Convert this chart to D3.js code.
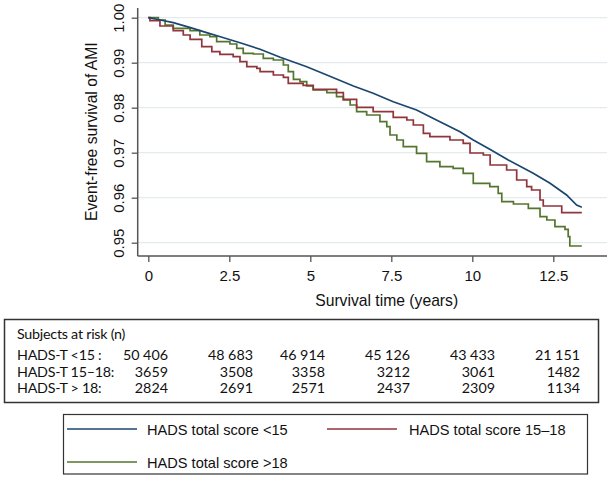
<!DOCTYPE html>
<html>
<head>
<meta charset="utf-8">
<script src="https://cdn.jsdelivr.net/npm/d3@7"></script>
<style>
  html, body { margin: 0; padding: 0; background: #fff; }
  svg { display: block; }
</style>
</head>
<body>
<div id="chart"></div>
<script>
// ---------- DATA ----------
const seriesNames = ["HADS total score <15", "HADS total score 15\u201318", "HADS total score >18"];
const seriesColors = ["#1a476f", "#90353b", "#55752f"];

// [time (years), survival]
const curveLow = [
  [0, 1.0], [0.3, 0.9996], [0.77, 0.99889], [1.3, 0.9978], [1.80, 0.99667], [2.3, 0.9956], [2.83, 0.99444],
  [3.45, 0.99298], [4.07, 0.99120], [4.89, 0.98911], [5.51, 0.98727], [6.33, 0.98482],
  [6.94, 0.98320], [7.56, 0.98133], [8.28, 0.97949], [9.00, 0.97689], [9.62, 0.97467],
  [10.03, 0.97282], [10.54, 0.97076], [11.11, 0.96838], [11.88, 0.96542], [12.40, 0.96320],
  [12.91, 0.96060], [13.22, 0.95838], [13.38, 0.95787]
];
const curveMid = [
  [0, 1.0], [0.05, 0.99933], [0.36, 0.99816], [0.77, 0.99711], [1.08, 0.99616], [1.29, 0.99520],
  [1.65, 0.99356], [1.96, 0.99244], [2.21, 0.99187], [2.62, 0.99133], [2.83, 0.99022],
  [3.04, 0.98911], [3.35, 0.98876], [3.45, 0.98800], [3.86, 0.98727], [4.17, 0.98676],
  [4.32, 0.98542], [4.78, 0.98498], [5.09, 0.98409], [5.81, 0.98333], [6.02, 0.98187],
  [6.43, 0.98009], [6.94, 0.97911], [7.56, 0.97787], [7.98, 0.97727], [8.18, 0.97616],
  [8.49, 0.97431], [8.69, 0.97356], [9.31, 0.97282], [9.72, 0.97209], [9.93, 0.96993],
  [10.34, 0.96949], [10.55, 0.96727], [11.06, 0.96616], [11.37, 0.96393], [11.68, 0.96244],
  [11.83, 0.96171], [12.09, 0.95949], [12.19, 0.95816], [12.76, 0.95667], [13.38, 0.95667]
];
const curveHigh = [
  [0, 1.0], [0.31, 0.99949], [0.52, 0.99838], [0.77, 0.99764], [1.29, 0.99711], [1.59, 0.99616],
  [1.90, 0.99578], [2.11, 0.99467], [2.52, 0.99416], [2.73, 0.99320], [2.93, 0.99209],
  [3.24, 0.99193], [3.55, 0.99098], [3.86, 0.99060], [4.17, 0.98949], [4.32, 0.98800],
  [4.48, 0.98631], [4.68, 0.98578], [4.89, 0.98482], [5.09, 0.98393], [5.51, 0.98333],
  [5.81, 0.98244], [6.02, 0.98171], [6.23, 0.98060], [6.43, 0.97911], [6.74, 0.97838],
  [7.15, 0.97689], [7.36, 0.97578], [7.46, 0.97393], [7.67, 0.97282], [7.87, 0.97133],
  [8.28, 0.96987], [8.59, 0.96800], [9.00, 0.96689], [9.41, 0.96653], [9.72, 0.96542],
  [10.03, 0.96320], [10.54, 0.96244], [10.80, 0.96098], [10.91, 0.95911], [11.27, 0.95860],
  [11.73, 0.95764], [12.09, 0.95578], [12.30, 0.95504], [12.55, 0.95356], [12.86, 0.95298],
  [12.96, 0.95133], [13.01, 0.94927], [13.38, 0.94927]
];

const xTicks = [0, 2.5, 5, 7.5, 10, 12.5];
const xTickLabels = ["0", "2.5", "5", "7.5", "10", "12.5"];
const yTicks = [0.95, 0.96, 0.97, 0.98, 0.99, 1.00];

const riskTitle = "Subjects at risk (n)";
const riskRowLabels = ["HADS-T <15 :", "HADS-T 15\u201318:", "HADS-T > 18:"];
const riskLow = ["50 406", "48 683", "46 914", "45 126", "43 433", "21 151"];
const riskMid = ["3659", "3508", "3358", "3212", "3061", "1482"];
const riskHigh = ["2824", "2691", "2571", "2437", "2309", "1134"];

const xTitle = "Survival time (years)";
const yTitle = "Event-free survival of AMI";

// ---------- LAYOUT ----------
const W = 610, H = 478;
const svg = d3.select("#chart").append("svg").attr("width", W).attr("height", H);

const axisLeftX = 137.7, axisBottomY = 256, plotRight = 607, plotTop = 8;
const x = d3.scaleLinear().domain([0, 12.5]).range([148.3, 553.3]);
const y = d3.scaleLinear().domain([0.95, 1.00]).range([242.7, 17.7]);

const axisColor = "#555";
const axisFont = "'Liberation Sans', Arial, sans-serif";

// gridlines
svg.append("g").selectAll("line").data(yTicks).join("line")
  .attr("x1", axisLeftX).attr("x2", plotRight)
  .attr("y1", d => y(d)).attr("y2", d => y(d))
  .attr("stroke", "#e3ebef").attr("stroke-width", 1.3);

// curves
const lineLinear = d3.line().x(d => x(d[0])).y(d => y(d[1]));
const lineStep = d3.line().x(d => x(d[0])).y(d => y(d[1])).curve(d3.curveStepAfter);
const curves = [
  {data: curveLow, gen: lineLinear, color: seriesColors[0]},
  {data: curveMid, gen: lineStep, color: seriesColors[1]},
  {data: curveHigh, gen: lineStep, color: seriesColors[2]}
];
[curves[2], curves[1], curves[0]].forEach(c => {
  svg.append("path").attr("d", c.gen(c.data))
    .attr("fill", "none").attr("stroke", c.color).attr("stroke-width", 1.7)
    .attr("stroke-linejoin", "miter");
});

// x axis
const gx = svg.append("g").attr("transform", `translate(0,${axisBottomY})`)
  .call(d3.axisBottom(x).tickValues(xTicks).tickFormat((d, i) => xTickLabels[i]).tickSize(6).tickPadding(5).tickSizeOuter(0));
gx.select(".domain").remove();
gx.selectAll(".tick line").attr("stroke", axisColor).attr("stroke-width", 1.3);
gx.selectAll(".tick text").attr("font-family", axisFont).attr("font-size", "15px").attr("fill", "#111")
  .attr("dy", null).attr("y", 24.5);
svg.append("line").attr("x1", axisLeftX).attr("x2", plotRight).attr("y1", axisBottomY).attr("y2", axisBottomY)
  .attr("stroke", axisColor).attr("stroke-width", 1.5);

// y axis
const gy = svg.append("g").attr("transform", `translate(${axisLeftX},0)`)
  .call(d3.axisLeft(y).tickValues(yTicks).tickFormat(d3.format(".2f")).tickSize(6).tickSizeOuter(0));
gy.select(".domain").remove();
gy.selectAll(".tick line").attr("stroke", axisColor).attr("stroke-width", 1.3);
gy.selectAll(".tick text")
  .attr("font-family", axisFont).attr("font-size", "15px").attr("fill", "#111")
  .attr("x", null).attr("dy", null)
  .attr("text-anchor", "middle")
  .attr("transform", "translate(-13.7,0) rotate(-90)");
svg.append("line").attr("x1", axisLeftX).attr("x2", axisLeftX).attr("y1", plotTop).attr("y2", axisBottomY)
  .attr("stroke", axisColor).attr("stroke-width", 1.5);

// axis titles
svg.append("text").attr("x", 386.7).attr("y", 305.5).attr("text-anchor", "middle")
  .attr("font-family", axisFont).attr("font-size", "15.7px").attr("fill", "#111").text(xTitle);
svg.append("text").attr("transform", "translate(96.5,131.7) rotate(-90)").attr("text-anchor", "middle")
  .attr("font-family", axisFont).attr("font-size", "15.7px").attr("fill", "#111").text(yTitle);

// ---------- RISK TABLE ----------
const tableFont = "Lato, 'Open Sans', sans-serif";
const tableSize = "14.3px";
const tableSpacing = "-0.25px";
svg.append("rect").attr("x", 4.5).attr("y", 319.5).attr("width", 594).attr("height", 83)
  .attr("fill", "none").attr("stroke", "#333").attr("stroke-width", 1.5);
svg.append("text").attr("x", 17).attr("y", 339.3).attr("font-family", tableFont).attr("font-size", tableSize)
  .attr("letter-spacing", tableSpacing).attr("fill", "#111").text(riskTitle);
const colRight = [168, 253, 325, 410, 495, 580];
const rowBase = [360, 376.7, 393.3];
[riskLow, riskMid, riskHigh].forEach((row, ri) => {
  svg.append("text").attr("x", 17).attr("y", rowBase[ri]).attr("font-family", tableFont).attr("font-size", tableSize)
    .attr("letter-spacing", tableSpacing).attr("fill", "#111").text(riskRowLabels[ri]);
  svg.append("g").selectAll("text").data(row).join("text")
    .attr("x", (d, i) => colRight[i]).attr("y", rowBase[ri]).attr("text-anchor", "end")
    .attr("font-family", tableFont).attr("font-size", tableSize).attr("fill", "#111").text(d => d);
});

// ---------- LEGEND ----------
svg.append("rect").attr("x", 63.5).attr("y", 414.5).attr("width", 524).attr("height", 59.5)
  .attr("fill", "none").attr("stroke", "#333").attr("stroke-width", 1.2);
const legendPos = [
  {lx: 67, ly: 429, tx: 147},
  {lx: 327, ly: 429, tx: 409},
  {lx: 67, ly: 462, tx: 147}
];
seriesNames.forEach((name, i) => {
  const p = legendPos[i];
  svg.append("line").attr("x1", p.lx).attr("x2", p.lx + 70).attr("y1", p.ly).attr("y2", p.ly)
    .attr("stroke", seriesColors[i]).attr("stroke-width", 1.6);
  svg.append("text").attr("x", p.tx).attr("y", p.ly + 6).attr("font-family", axisFont).attr("font-size", "14.6px")
    .attr("fill", "#111").text(name);
});
</script>
</body>
</html>
